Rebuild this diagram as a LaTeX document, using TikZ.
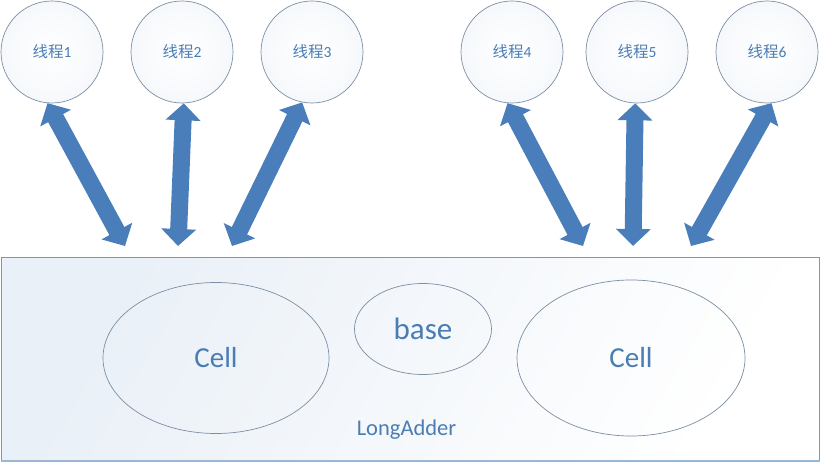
\documentclass[tikz,border=0pt]{standalone}
\usepackage{fontspec}
\setmainfont{Carlito}
\newfontfamily\cjk{Noto Sans CJK SC}
\usetikzlibrary{arrows.meta,shapes.geometric}
\definecolor{txtblue}{HTML}{4A7DB3}
\definecolor{arrblue}{HTML}{4A7EBB}
\definecolor{edgegray}{HTML}{7D8EA3}
\definecolor{boxedge}{HTML}{6D9AC6}
\definecolor{paleblue}{HTML}{E4ECF5}
\begin{document}
\begin{tikzpicture}[x=1pt,y=-1pt,
  thread/.style={circle,draw=edgegray,line width=0.7pt,inner sep=0pt,minimum size=102pt,
    inner color=white,outer color=paleblue!35,text=txtblue,font=\fontsize{15.5}{18}\selectfont},
  cellnode/.style={ellipse,draw=edgegray,line width=0.7pt,inner sep=0pt,text=txtblue,
    font=\fontsize{29}{34}\selectfont},
  boxnode/.style={rectangle,draw=boxedge,line width=1pt,inner sep=0pt,
    top color=paleblue!80,bottom color=white,shading angle=60},
  dblarrow/.style={draw=arrblue,line width=17pt,
    {Triangle[width=34pt,length=17pt]}-{Triangle[width=34pt,length=17pt]}}
]
\useasboundingbox (0,0) rectangle (821,462);
% box
\node[boxnode,minimum width=818pt,minimum height=203pt] (la) at (410.5,358.5) {};
\draw[boxedge!70,line width=2pt] (la.south west) -- (la.south east);
% threads
\node[thread] (t1) at (52,52) {{\cjk 线程}1};
\node[thread] (t2) at (182,52) {{\cjk 线程}2};
\node[thread] (t3) at (312,52) {{\cjk 线程}3};
\node[thread] (t4) at (512,52) {{\cjk 线程}4};
\node[thread] (t5) at (637,52) {{\cjk 线程}5};
\node[thread] (t6) at (767,52) {{\cjk 线程}6};
% inner ellipses
\node[cellnode,minimum width=226pt,minimum height=151pt] (c1) at (216,358) {Cell};
\node[cellnode,minimum width=137pt,minimum height=91pt,font=\fontsize{31}{34}\selectfont] (base) at (423,329) {base};
\node[cellnode,minimum width=228pt,minimum height=156pt] (c2) at (631,358) {Cell};
\node[text=txtblue,font=\fontsize{22.5}{26}\selectfont] (lbl) at (406.5,430) {LongAdder};
% arrow ends
\coordinate (b1) at (125,246);
\coordinate (b2) at (178,246);
\coordinate (b3) at (232,246);
\coordinate (b4) at (583,246);
\coordinate (b5) at (633,246);
\coordinate (b6) at (691,246);
\draw[dblarrow] (t1.-95) -- (b1);
\draw[dblarrow] (t2.-88) -- (b2);
\draw[dblarrow] (t3.-101) -- (b3);
\draw[dblarrow] (t4.-95) -- (b4);
\draw[dblarrow] (t5.-92) -- (b5);
\draw[dblarrow] (t6.-85) -- (b6);
\end{tikzpicture}
\end{document}
